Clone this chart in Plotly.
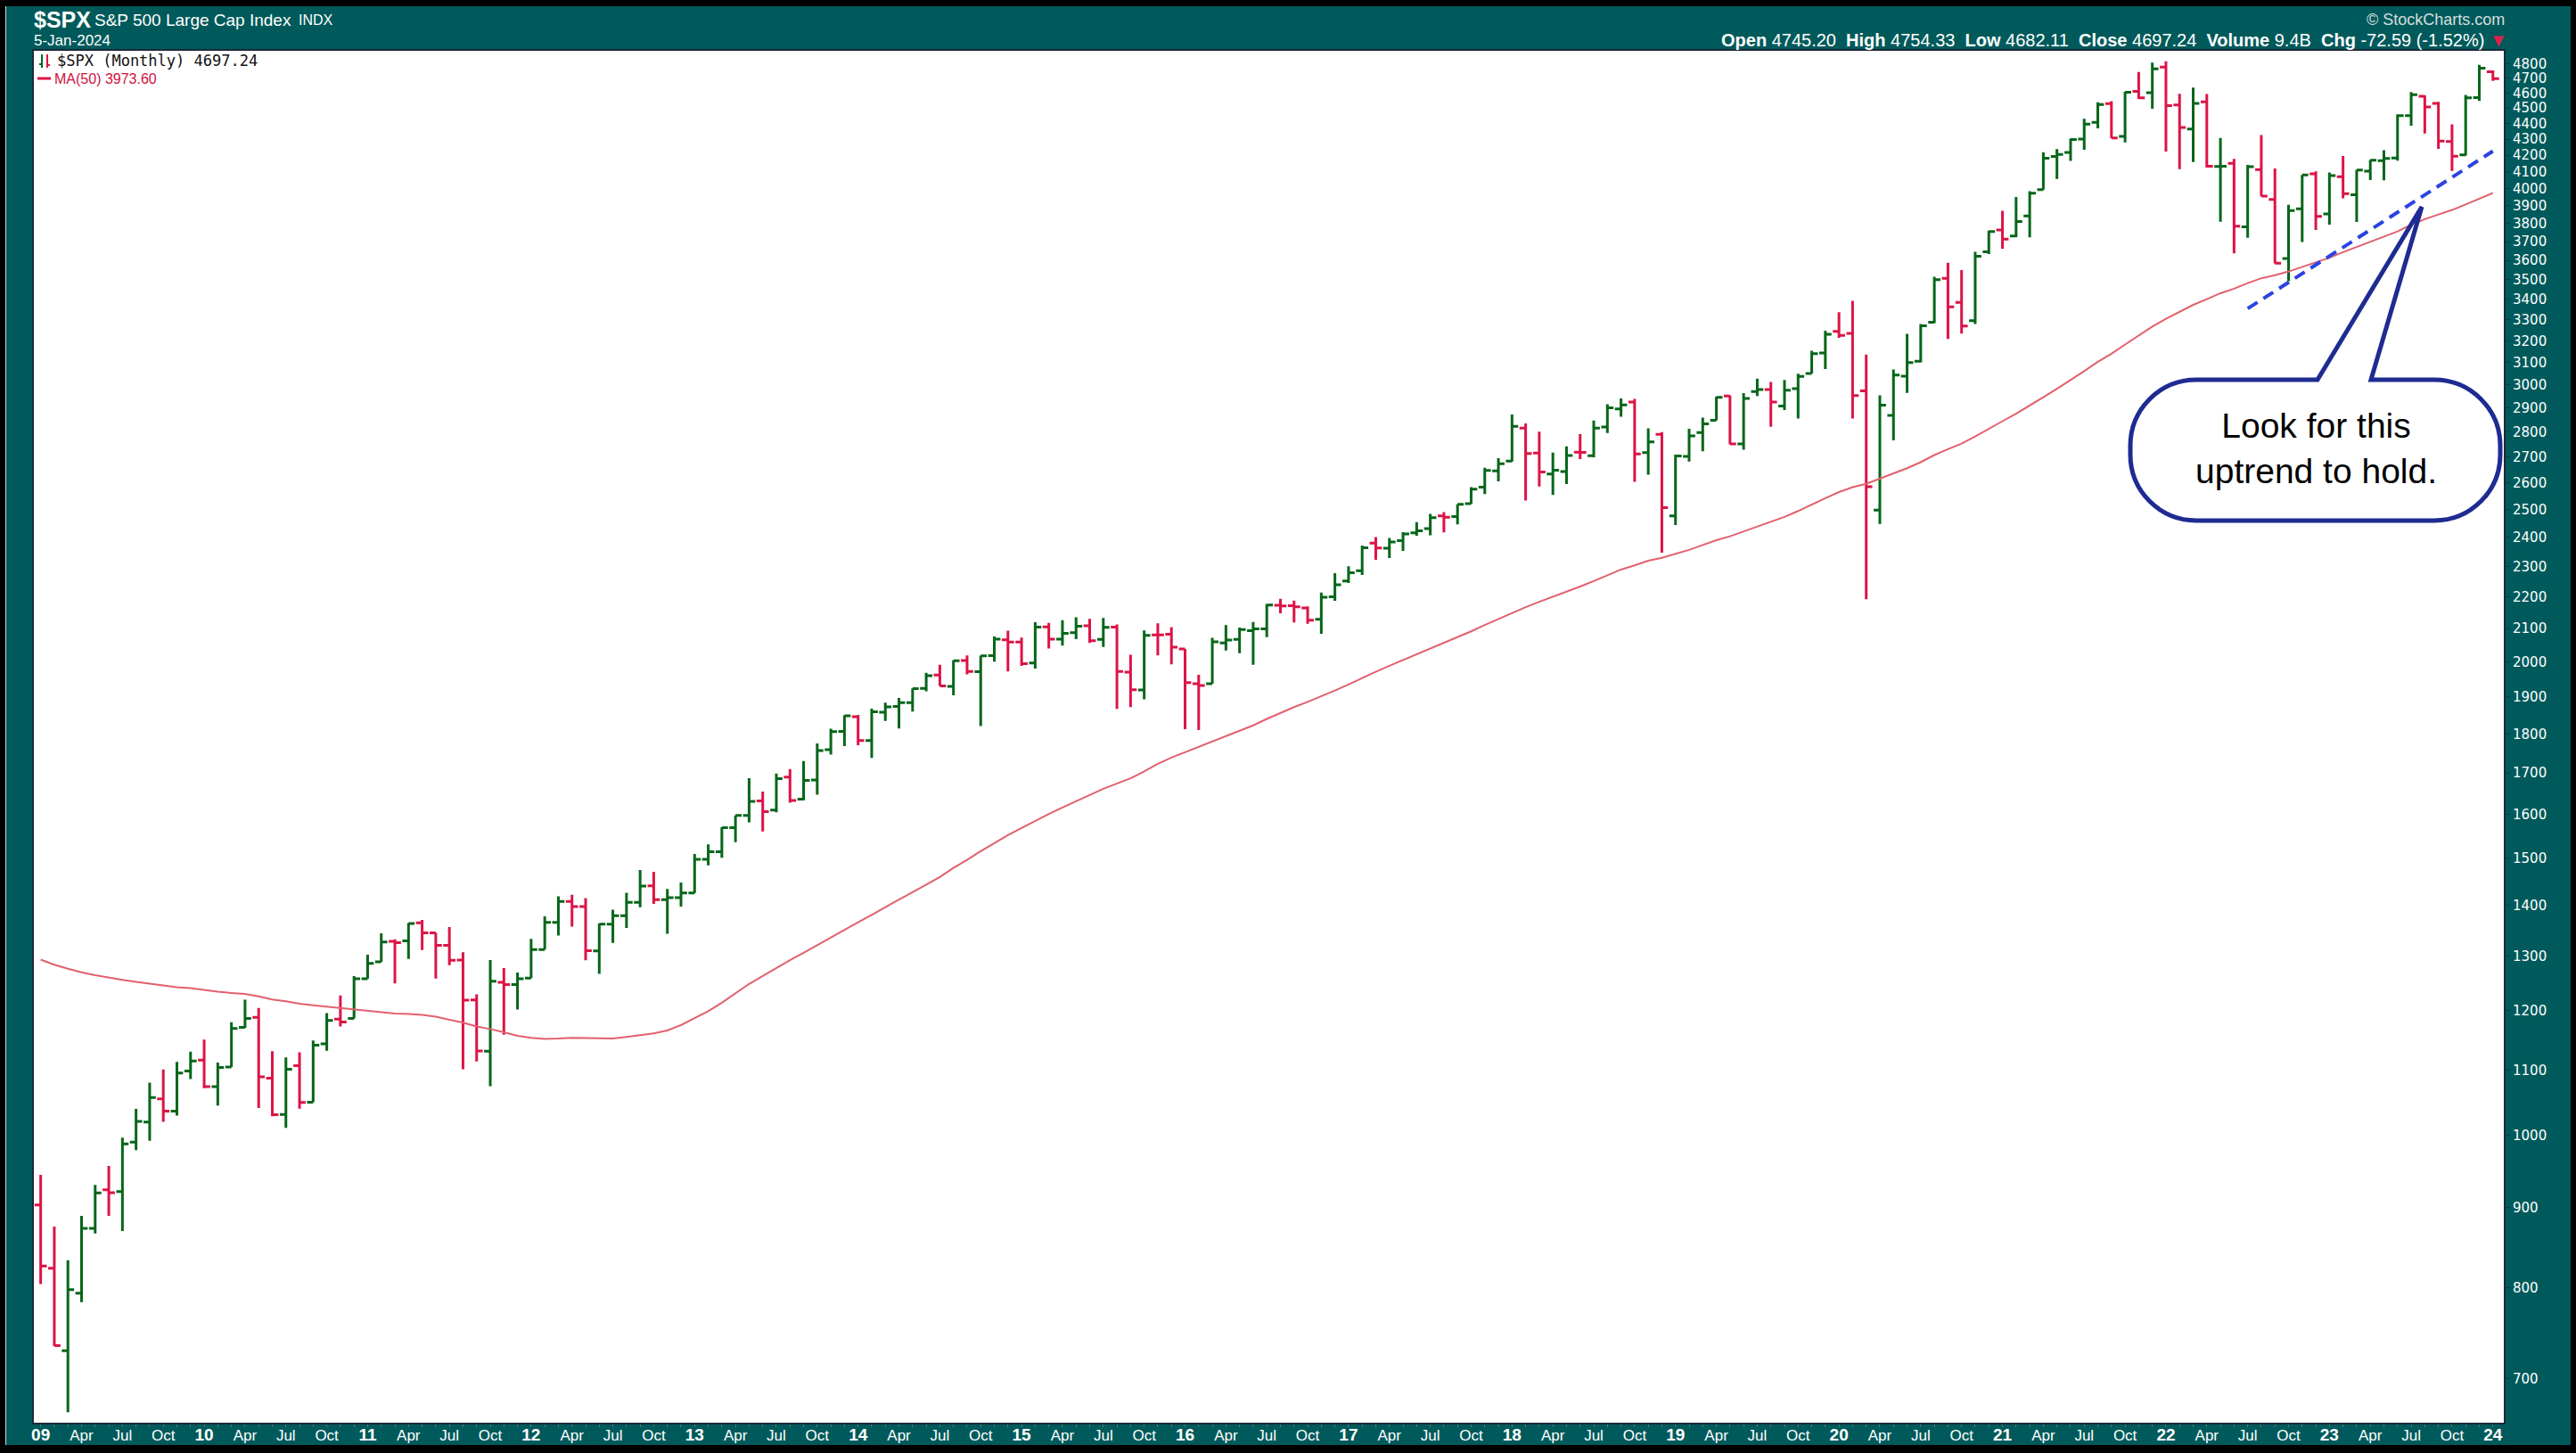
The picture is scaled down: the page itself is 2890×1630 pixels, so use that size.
import plotly.graph_objects as go
import pandas as pd

# ---------------- data ----------------
months = pd.date_range("2009-01-01", periods=181, freq="MS")

open_ = [
    902.99, 823.09, 729.57, 793.59, 872.74, 923.26, 920.82, 990.22, 1019.52, 1054.91, 1036.18, 1098.89,
    1116.56, 1073.89, 1105.36, 1171.23, 1188.58, 1087.30, 1031.10, 1107.53, 1049.72, 1143.49, 1185.71, 1186.60,
    1257.62, 1289.14, 1328.64, 1329.48, 1365.21, 1345.20, 1320.64, 1292.59, 1219.12, 1131.21, 1251.00, 1246.91,
    1258.86, 1312.45, 1365.90, 1408.47, 1397.86, 1309.87, 1362.33, 1379.32, 1406.54, 1440.90, 1412.20, 1416.18,
    1426.19, 1498.11, 1514.68, 1569.18, 1597.55, 1631.71, 1609.78, 1689.42, 1635.95, 1682.41, 1758.70, 1806.55,
    1845.86, 1782.68, 1857.68, 1873.96, 1884.39, 1923.87, 1962.29, 1929.80, 2004.07, 1971.44, 2018.21, 2065.78,
    2058.90, 1996.67, 2105.23, 2067.63, 2087.38, 2108.64, 2067.00, 2104.49, 1970.09, 1919.65, 2080.76, 2082.93,
    2038.20, 1936.94, 1937.09, 2056.62, 2067.17, 2093.94, 2099.34, 2173.15, 2171.33, 2164.33, 2128.68, 2200.17,
    2251.57, 2285.59, 2380.13, 2362.34, 2388.50, 2415.65, 2431.39, 2477.10, 2474.42, 2521.20, 2583.21, 2645.10,
    2683.73, 2816.45, 2715.22, 2633.45, 2642.96, 2718.70, 2704.95, 2821.17, 2896.96, 2926.29, 2717.58, 2790.50,
    2476.96, 2702.32, 2798.22, 2848.63, 2952.33, 2751.53, 2971.41, 2980.32, 2909.01, 2983.69, 3050.72, 3143.85,
    3244.67, 3235.66, 2974.28, 2498.08, 2869.09, 3038.78, 3105.92, 3288.26, 3507.44, 3385.87, 3296.20, 3645.87,
    3764.61, 3731.17, 3842.51, 3992.78, 4191.98, 4216.52, 4300.73, 4406.86, 4528.80, 4317.16, 4610.62, 4602.82,
    4778.14, 4519.57, 4363.14, 4540.32, 4130.61, 4149.78, 3781.00, 4112.38, 3936.73, 3609.78, 3882.23, 4087.14,
    3853.29, 4070.07, 3963.34, 4102.20, 4166.79, 4183.03, 4450.48, 4578.83, 4530.60, 4284.52, 4201.27, 4568.84,
    4745.20]

high_ = [
    943.85, 875.01, 832.98, 888.70, 930.17, 956.23, 996.68, 1039.47, 1080.15, 1101.36, 1113.69, 1130.38,
    1150.45, 1112.42, 1180.16, 1219.80, 1205.13, 1131.23, 1120.95, 1129.24, 1148.90, 1196.14, 1227.08, 1262.60,
    1302.67, 1344.07, 1332.28, 1364.56, 1370.58, 1345.20, 1356.48, 1307.38, 1229.29, 1292.66, 1277.55, 1269.37,
    1333.47, 1378.04, 1419.15, 1422.38, 1415.32, 1363.46, 1391.74, 1426.68, 1474.51, 1470.96, 1434.27, 1448.00,
    1509.94, 1530.94, 1570.28, 1597.57, 1687.18, 1654.19, 1698.78, 1709.67, 1729.86, 1775.22, 1813.55, 1849.44,
    1850.84, 1867.92, 1883.97, 1897.28, 1924.03, 1968.17, 1991.39, 2005.04, 2019.26, 2018.19, 2075.76, 2093.55,
    2072.36, 2119.59, 2117.52, 2125.92, 2134.72, 2129.87, 2132.82, 2112.66, 2020.86, 2094.32, 2116.48, 2104.27,
    2038.20, 1962.96, 2072.21, 2111.05, 2103.48, 2120.55, 2177.09, 2193.81, 2187.87, 2169.60, 2214.10, 2277.53,
    2300.99, 2371.54, 2400.98, 2398.16, 2418.71, 2453.82, 2484.04, 2490.87, 2519.44, 2582.98, 2657.74, 2694.97,
    2872.87, 2835.96, 2801.90, 2717.49, 2742.24, 2791.47, 2848.03, 2916.50, 2940.91, 2939.86, 2815.15, 2800.18,
    2708.95, 2813.49, 2860.31, 2949.52, 2954.13, 2964.15, 3027.98, 3013.59, 3021.99, 3050.10, 3154.26, 3247.93,
    3337.77, 3393.52, 3136.72, 2954.86, 3068.67, 3233.13, 3279.99, 3514.77, 3588.11, 3549.85, 3645.99, 3760.20,
    3870.90, 3950.43, 3983.87, 4218.78, 4238.04, 4302.43, 4429.97, 4537.36, 4545.85, 4608.08, 4743.83, 4808.93,
    4818.62, 4595.31, 4637.30, 4593.45, 4307.66, 4177.51, 4140.15, 4325.28, 4119.28, 3905.42, 4080.11, 4100.96,
    4094.21, 4195.44, 4110.75, 4170.06, 4231.10, 4458.48, 4607.07, 4584.62, 4541.25, 4393.57, 4587.64, 4793.30,
    4754.33]

low_ = [
    804.30, 734.52, 666.79, 783.32, 866.10, 888.86, 869.32, 978.51, 991.97, 1019.95, 1029.38, 1085.89,
    1071.59, 1044.50, 1105.36, 1170.69, 1040.78, 1028.33, 1010.91, 1039.70, 1049.72, 1131.87, 1173.00, 1186.60,
    1257.62, 1289.14, 1249.05, 1294.70, 1311.80, 1258.07, 1282.86, 1101.54, 1114.22, 1074.77, 1158.66, 1202.37,
    1258.86, 1312.45, 1340.03, 1357.38, 1291.98, 1266.74, 1325.41, 1354.65, 1396.56, 1403.28, 1343.35, 1398.11,
    1426.19, 1485.01, 1501.48, 1536.03, 1581.28, 1560.33, 1604.57, 1627.47, 1633.41, 1646.47, 1746.20, 1767.99,
    1770.45, 1737.92, 1834.44, 1814.36, 1859.79, 1915.98, 1930.67, 1904.78, 1964.04, 1820.66, 2001.01, 1972.56,
    1988.12, 1980.90, 2039.69, 2048.38, 2067.93, 2056.32, 2044.02, 1867.01, 1871.91, 1893.70, 2019.39, 1993.26,
    1812.29, 1810.10, 1937.09, 2033.80, 2025.91, 1991.68, 2074.02, 2147.58, 2119.12, 2114.72, 2083.79, 2187.44,
    2245.13, 2271.65, 2322.25, 2328.95, 2352.72, 2405.70, 2407.70, 2417.35, 2446.55, 2520.40, 2557.45, 2605.52,
    2682.36, 2532.69, 2585.89, 2553.80, 2594.62, 2691.99, 2698.95, 2796.34, 2864.12, 2603.54, 2631.09, 2346.58,
    2443.96, 2681.83, 2722.27, 2848.63, 2750.52, 2728.81, 2952.22, 2822.12, 2891.85, 2855.94, 3050.72, 3070.33,
    3214.64, 2855.84, 2191.86, 2447.49, 2766.64, 2965.66, 3101.17, 3284.53, 3209.45, 3233.94, 3279.74, 3633.40,
    3662.71, 3725.62, 3723.34, 3992.78, 4056.88, 4164.40, 4233.13, 4367.73, 4305.91, 4278.94, 4560.00, 4495.12,
    4222.62, 4114.65, 4157.87, 4124.28, 3810.32, 3636.87, 3721.56, 3954.53, 3584.13, 3491.58, 3698.15, 3764.49,
    3794.33, 3943.08, 3808.86, 4049.35, 4048.28, 4166.15, 4385.05, 4335.31, 4238.63, 4103.78, 4197.74, 4546.50,
    4682.11]

close_ = [
    825.88, 735.09, 797.87, 872.81, 919.14, 919.32, 987.48, 1020.62, 1057.08, 1036.19, 1095.63, 1115.10,
    1073.87, 1104.49, 1169.43, 1186.69, 1089.41, 1030.71, 1101.60, 1049.33, 1141.20, 1183.26, 1180.55, 1257.64,
    1286.12, 1327.22, 1325.83, 1363.61, 1345.20, 1320.64, 1292.28, 1218.89, 1131.42, 1253.30, 1246.96, 1257.60,
    1312.41, 1365.68, 1408.47, 1397.91, 1310.33, 1362.16, 1379.32, 1406.58, 1440.67, 1412.16, 1416.18, 1426.19,
    1498.11, 1514.68, 1569.19, 1597.57, 1630.74, 1606.28, 1685.73, 1632.97, 1681.55, 1756.54, 1805.81, 1848.36,
    1782.59, 1859.45, 1872.34, 1883.95, 1923.57, 1960.23, 1930.67, 2003.37, 1972.29, 2018.05, 2067.56, 2058.90,
    1994.99, 2104.50, 2067.89, 2085.51, 2107.39, 2063.11, 2103.84, 1972.18, 1920.03, 2079.36, 2080.41, 2043.94,
    1940.24, 1932.23, 2059.74, 2065.30, 2096.95, 2098.86, 2173.60, 2170.95, 2168.27, 2126.15, 2198.81, 2238.83,
    2278.87, 2363.64, 2362.72, 2384.20, 2411.80, 2423.41, 2470.30, 2471.65, 2519.36, 2575.26, 2647.58, 2673.61,
    2823.81, 2713.83, 2640.87, 2648.05, 2705.27, 2718.37, 2816.29, 2901.52, 2913.98, 2711.74, 2760.17, 2506.85,
    2704.10, 2784.49, 2834.40, 2945.83, 2752.06, 2941.76, 2980.38, 2926.46, 2976.74, 3037.56, 3140.98, 3230.78,
    3225.52, 2954.22, 2584.59, 2912.43, 3044.31, 3100.29, 3271.12, 3500.31, 3363.00, 3269.96, 3621.63, 3756.07,
    3714.24, 3811.15, 3972.89, 4181.17, 4204.11, 4297.50, 4395.26, 4522.68, 4307.54, 4605.38, 4567.00, 4766.18,
    4515.55, 4373.94, 4530.41, 4131.93, 4132.15, 3785.38, 4130.29, 3955.00, 3585.62, 3871.98, 4080.11, 3839.50,
    4076.60, 3970.15, 4109.31, 4169.48, 4179.83, 4450.38, 4588.96, 4507.66, 4288.05, 4193.80, 4567.80, 4769.83,
    4697.24]

# monthly closes Dec-2004 .. Dec-2008 (needed to seed the 50-month average)
prior_close = [
    1211.92,
    1181.27, 1203.60, 1180.59, 1156.85, 1191.50, 1191.33, 1234.18, 1220.33, 1228.81, 1207.01, 1249.48, 1248.29,
    1280.08, 1280.66, 1294.87, 1310.61, 1270.09, 1270.20, 1276.66, 1303.82, 1335.85, 1377.94, 1400.63, 1418.30,
    1438.24, 1406.82, 1420.86, 1482.37, 1530.62, 1503.35, 1455.27, 1473.99, 1526.75, 1549.38, 1481.14, 1468.36,
    1378.55, 1330.63, 1322.70, 1385.59, 1400.38, 1280.00, 1267.38, 1282.83, 1166.36, 968.75, 896.24, 903.25]

MA_LEN = 50
all_close = pd.Series(prior_close + close_)
ma50 = all_close.rolling(MA_LEN).mean().iloc[len(prior_close):].tolist()

# trend line drawn on the chart (start / end month, value)
trend_months = ["2022-07", "2024-01"]
trend_values = [3355, 4225]

y_tick_vals = list(range(700, 4801, 100))
y_tick_text = [str(v) for v in y_tick_vals]

idx = list(range(len(months)))
month_pos = {m.strftime("%Y-%m"): i for i, m in enumerate(months)}
x_tick_vals = [i for i, m in enumerate(months) if m.month in (1, 4, 7, 10)]
x_tick_text = [("<b><span style='font-size:19px'>%s</span></b>" % m.strftime("%y")) if m.month == 1
               else m.strftime("%b") for m in months if m.month in (1, 4, 7, 10)]

# ---------------- styling ----------------
W, H = 2890, 1630
ML, MR, MT, MB = 38, 81, 57, 34
PW, PH = W - ML - MR, H - MT - MB
TEAL = "#005A5B"
GREEN = "#06661A"
RED = "#DC1446"
MA_COL = "#E2606E"
TREND = "#2B44E0"
NAVY = "#1E2B92"
NARROW = "Liberation Sans Narrow, Arial Narrow, Liberation Sans, Arial"
SANS = "Liberation Sans, Arial"


def pxp(x):
    return (x - ML) / PW


def pyp(y):
    return (H - MB - y) / PH


fig = go.Figure()
fig.add_trace(go.Ohlc(
    x=idx, open=open_, high=high_, low=low_, close=close_,
    increasing=dict(line=dict(color=GREEN, width=3)),
    decreasing=dict(line=dict(color=RED, width=3)),
    tickwidth=0.45, hoverinfo="skip"))
fig.add_trace(go.Scatter(x=idx, y=ma50, mode="lines",
                         line=dict(color=MA_COL, width=2), hoverinfo="skip"))
fig.add_trace(go.Scatter(x=[month_pos[m] for m in trend_months], y=trend_values, mode="lines",
                         line=dict(color=TREND, width=4, dash="13px,8px"), hoverinfo="skip"))

shapes = []
# black outer frame
for (x0, y0, x1, y1) in [(0, 0, W, 7), (0, H - 9, W, H), (0, 0, 6, H), (W - 6, 0, W, H)]:
    shapes.append(dict(type="rect", xref="paper", yref="paper",
                       x0=pxp(x0), x1=pxp(x1), y0=pyp(y1), y1=pyp(y0),
                       fillcolor="black", line=dict(width=0), layer="above"))
# thin light line inside the left frame
shapes.append(dict(type="line", xref="paper", yref="paper", x0=pxp(6.5), x1=pxp(6.5),
                   y0=pyp(H - 9), y1=pyp(7), line=dict(color="#cfd6d6", width=1), layer="above"))

# callout bubble
bx0, bx1, by0, by1, r = 2390, 2805, 426, 584, 74
xa, xb, tip = 2600, 2660, (2717, 232)
k = 0.5523


def P(x, y):
    return "%.6f,%.6f" % (pxp(x), pyp(y))


path = "M%s L%s " % (P(xa, by0), P(bx0 + r, by0))
path += "C%s %s %s " % (P(bx0 + r - k * r, by0), P(bx0, by0 + r - k * r), P(bx0, by0 + r))
path += "L%s " % P(bx0, by1 - r)
path += "C%s %s %s " % (P(bx0, by1 - r + k * r), P(bx0 + r - k * r, by1), P(bx0 + r, by1))
path += "L%s " % P(bx1 - r, by1)
path += "C%s %s %s " % (P(bx1 - r + k * r, by1), P(bx1, by1 - r + k * r), P(bx1, by1 - r))
path += "L%s " % P(bx1, by0 + r)
path += "C%s %s %s " % (P(bx1, by0 + r - k * r), P(bx1 - r + k * r, by0), P(bx1 - r, by0))
path += "L%s L%s Z" % (P(xb, by0), P(*tip))
shapes.append(dict(type="path", xref="paper", yref="paper", path=path,
                   fillcolor="white", line=dict(color=NAVY, width=5), layer="above"))

# legend icons
shapes.append(dict(type="line", xref="paper", yref="paper", x0=pxp(47), x1=pxp(47), y0=pyp(61), y1=pyp(76),
                   line=dict(color=GREEN, width=2)))
shapes.append(dict(type="line", xref="paper", yref="paper", x0=pxp(44), x1=pxp(47), y0=pyp(72), y1=pyp(72),
                   line=dict(color=GREEN, width=2)))
shapes.append(dict(type="line", xref="paper", yref="paper", x0=pxp(53), x1=pxp(53), y0=pyp(61), y1=pyp(76),
                   line=dict(color=RED, width=2)))
shapes.append(dict(type="line", xref="paper", yref="paper", x0=pxp(53), x1=pxp(56), y0=pyp(73), y1=pyp(73),
                   line=dict(color=RED, width=2)))
shapes.append(dict(type="line", xref="paper", yref="paper", x0=pxp(42), x1=pxp(57), y0=pyp(88), y1=pyp(88),
                   line=dict(color=RED, width=3)))

ann = []


def A(text, x, y, size, color="white", family=SANS, xanchor="left"):
    ann.append(dict(text=text, x=pxp(x), y=pyp(y), xref="paper", yref="paper",
                    xanchor=xanchor, yanchor="middle", showarrow=False,
                    font=dict(size=size, color=color, family=family)))


A("<b>$SPX</b>", 36, 22, 25)
A("S&P 500 Large Cap Index", 104, 23, 19)
A("INDX", 333, 23, 16)
A("5-Jan-2024", 36, 45, 17)
A("© StockCharts.com", 2812, 22, 18, color="#D5DEDE", family=NARROW, xanchor="right")
A("<b>Open</b> 4745.20  <b>High</b> 4754.33  <b>Low</b> 4682.11  <b>Close</b> 4697.24  "
  "<b>Volume</b> 9.4B  <b>Chg</b> -72.59 (-1.52%) <span style='color:#E0204A'>▼</span>",
  2815, 45, 20, family=NARROW, xanchor="right")
A("$SPX (Monthly) 4697.24", 62, 68, 17, color="#111111", family="DejaVu Sans Mono")
A("MA(50) 3973.60", 59, 88, 16, color="#D0103C", family=NARROW)
ann.append(dict(text="Look for this<br>uptrend to hold.", x=pxp(2598), y=pyp(503),
                xref="paper", yref="paper", xanchor="center", yanchor="middle", showarrow=False,
                font=dict(size=39, color="black", family=SANS)))

fig.update_layout(
    width=W, height=H,
    margin=dict(l=ML, r=MR, t=MT, b=MB, pad=0, autoexpand=False),
    paper_bgcolor=TEAL, plot_bgcolor="white",
    showlegend=False, hovermode=False, dragmode=False,
    shapes=shapes, annotations=ann,
    xaxis=dict(range=[-0.5, 180.8], tickmode="array", tickvals=x_tick_vals, ticktext=x_tick_text,
               ticks="outside", ticklen=3, tickcolor="#3f7f7f", showgrid=False, zeroline=False,
               showline=True, linecolor="#1c2b3a", linewidth=2, mirror=True, automargin=False,
               ticklabelstandoff=-5,
               tickfont=dict(family=NARROW, size=17, color="white"),
               rangeslider=dict(visible=False), fixedrange=True,
               minor=dict(tickmode="array", tickvals=idx, ticks="outside", ticklen=3,
                          tickcolor="#3f7f7f", showgrid=False)),
    yaxis=dict(type="log", range=[2.8173, 3.6896], side="right", tickmode="array",
               tickvals=y_tick_vals, ticktext=y_tick_text, ticks="outside", ticklen=5,
               tickcolor="#0f3a3a", showgrid=False, zeroline=False, automargin=False,
               showline=True, linecolor="#1c2b3a", linewidth=2, mirror=True,
               tickfont=dict(family="DejaVu Sans", size=15, color="white"), fixedrange=True),
)

fig.write_html("out.html", config={"displayModeBar": False},
               post_script="document.body.style.margin='0px';")
